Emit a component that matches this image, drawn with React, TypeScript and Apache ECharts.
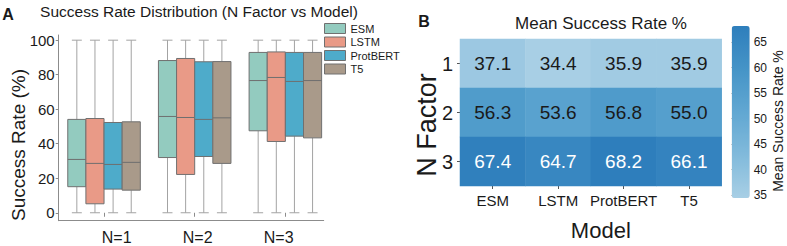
import React, { useEffect, useRef } from 'react';
import * as echarts from 'echarts';

// ---------- data ----------
const groups = ['N=1', 'N=2', 'N=3'];
const models = ['ESM', 'LSTM', 'ProtBERT', 'T5'];
const modelColors = ['#93cbbf', '#e99a87', '#4eabca', '#a99a8a'];

// [min, Q1, median, Q3, max] for N=1, N=2, N=3
const esmBox = [
  [0, 15.1, 30.9, 54.1, 100],
  [0, 32.0, 55.8, 88.2, 100],
  [0, 47.5, 76.6, 92.9, 100],
];
const lstmBox = [
  [0, 5.2, 28.6, 54.6, 100],
  [0, 22.2, 55.2, 89.4, 100],
  [0, 41.3, 78.4, 93.2, 100],
];
const protbertBox = [
  [0, 13.7, 28.0, 52.3, 100],
  [0, 32.6, 54.1, 87.5, 100],
  [0, 44.4, 76.1, 92.9, 100],
];
const t5Box = [
  [0, 13.1, 29.2, 52.7, 100],
  [0, 28.6, 55.0, 87.6, 100],
  [0, 43.4, 76.6, 92.9, 100],
];
const boxSets = [esmBox, lstmBox, protbertBox, t5Box];
const yTicks = [0, 20, 40, 60, 80, 100];

const heatRows = ['1', '2', '3'];
const heatN1 = [37.1, 34.4, 35.9, 35.9];
const heatN2 = [56.3, 53.6, 56.8, 55.0];
const heatN3 = [67.4, 64.7, 68.2, 66.1];
const heatValues = [heatN1, heatN2, heatN3];
const colorbarTicks = [35, 40, 45, 50, 55, 60, 65];
const blues = ['#a8cfe5', '#81badb', '#61a7d2', '#4594c7', '#2e7ebc'];

const FONT = "'Liberation Sans', Arial, Helvetica, sans-serif";
const TXT = '#1a1a1a';

export default function App() {
  const ref = useRef<HTMLDivElement>(null);
  useEffect(() => {
    if (!ref.current) return;
    const chart = echarts.init(ref.current, undefined, { renderer: 'svg' });

    const boxSeries = models.map((name, mi) => ({
      type: 'custom',
      name,
      xAxisIndex: 0,
      yAxisIndex: 0,
      itemStyle: { color: modelColors[mi], borderColor: '#707070', borderWidth: 1 },
      encode: { x: 0, y: [1, 2, 3, 4, 5] },
      data: boxSets[mi].map((b, ci) => [ci, ...b]),
      renderItem: (params: any, api: any) => {
        const cat = api.value(0);
        const lo = api.coord([cat, api.value(1)]);
        const q1 = api.coord([cat, api.value(2)]);
        const med = api.coord([cat, api.value(3)]);
        const q3 = api.coord([cat, api.value(4)]);
        const hi = api.coord([cat, api.value(5)]);
        const band = api.size([1, 0])[0];
        const boxW = (band * 0.8) / 4;
        const cx = lo[0] + (mi - 1.5) * boxW;
        const capW = boxW * 0.55;
        const wStyle = { stroke: '#a3a3a3', lineWidth: 1 };
        const eStyle = { stroke: '#6f6f6f', lineWidth: 1 };
        return {
          type: 'group',
          children: [
            { type: 'line', shape: { x1: cx, y1: hi[1], x2: cx, y2: q3[1] }, style: wStyle },
            { type: 'line', shape: { x1: cx, y1: q1[1], x2: cx, y2: lo[1] }, style: wStyle },
            { type: 'line', shape: { x1: cx - capW / 2, y1: hi[1], x2: cx + capW / 2, y2: hi[1] }, style: wStyle },
            { type: 'line', shape: { x1: cx - capW / 2, y1: lo[1], x2: cx + capW / 2, y2: lo[1] }, style: wStyle },
            {
              type: 'rect',
              shape: { x: cx - boxW / 2, y: q3[1], width: boxW, height: q1[1] - q3[1] },
              style: { fill: modelColors[mi], stroke: '#707070', lineWidth: 1 },
            },
            { type: 'line', shape: { x1: cx - boxW / 2, y1: med[1], x2: cx + boxW / 2, y2: med[1] }, style: eStyle },
          ],
        };
      },
    }));

    const heatData: any[] = [];
    heatValues.forEach((row, ri) =>
      row.forEach((v, ci) =>
        heatData.push({ value: [ci, ri, v], label: { color: v > 62 ? '#ffffff' : TXT } })
      )
    );

    const gtext = (text: string, x: number, y: number, size: number, opts: any = {}) => ({
      type: 'text',
      x,
      y,
      rotation: opts.rotation || 0,
      style: {
        text,
        x: 0,
        y: 0,
        align: 'center',
        verticalAlign: 'middle',
        fontSize: size,
        fontFamily: FONT,
        fontWeight: opts.bold ? 'bold' : 'normal',
        fill: TXT,
      },
    });

    const option: any = {
      animation: false,
      textStyle: { fontFamily: FONT },
      grid: [
        { left: 58.7, top: 35, width: 272, height: 185.7 },
        { left: 76.2, top: 35, width: 243, height: 185.7 },
        { left: 58.7, top: 35, width: 265, height: 185.7 },
        { left: 460, top: 39, width: 261.7, height: 147 },
        { left: 731.7, top: 26, width: 18, height: 172 },
      ],
      xAxis: [
        {
          gridIndex: 0, type: 'category', data: groups,
          axisLine: { show: false },
          axisTick: { show: true, alignWithLabel: true, length: 4, lineStyle: { color: '#8c8c8c' } },
          axisLabel: { show: false }, splitLine: { show: false },
        },
        {
          gridIndex: 1, type: 'category', data: groups,
          axisLine: { show: false }, axisTick: { show: false },
          axisLabel: { fontSize: 16, color: TXT, margin: 9, fontFamily: FONT, interval: 0 },
        },
        {
          gridIndex: 2, type: 'value', min: 0, max: 1,
          axisLine: { show: true, lineStyle: { color: '#8c8c8c' } },
          axisTick: { show: false }, axisLabel: { show: false }, splitLine: { show: false },
        },
        {
          gridIndex: 3, type: 'category', data: models,
          axisLine: { show: false },
          axisTick: { show: true, alignWithLabel: true, length: 3, interval: 0, lineStyle: { color: '#555' } },
          axisLabel: { fontSize: 15, color: TXT, margin: 7, fontFamily: FONT, interval: 0, hideOverlap: false },
          splitLine: { show: false },
        },
        { gridIndex: 4, type: 'value', show: false, min: 0, max: 1 },
      ],
      yAxis: [
        {
          gridIndex: 0, type: 'value', min: -4.6, max: 103,
          axisLine: { show: true, lineStyle: { color: '#8c8c8c' } },
          axisTick: { show: true, length: 3, customValues: yTicks, lineStyle: { color: '#8c8c8c' } },
          axisLabel: {
            customValues: yTicks, fontSize: 15, color: TXT, margin: 4, fontFamily: FONT,
            formatter: (v: number) => (yTicks.includes(v) ? String(v) : ''),
          },
          splitLine: { show: false },
        },
        { gridIndex: 1, type: 'value', show: false, min: 0, max: 1 },
        { gridIndex: 2, type: 'value', show: false, min: 0, max: 1 },
        {
          gridIndex: 3, type: 'category', data: heatRows, inverse: true,
          axisLine: { show: false },
          axisTick: { show: true, alignWithLabel: true, length: 3, interval: 0, lineStyle: { color: '#555' } },
          axisLabel: { fontSize: 20, color: TXT, margin: 7, fontFamily: FONT, interval: 0 },
          splitLine: { show: false },
        },
        {
          gridIndex: 4, type: 'value', position: 'right', min: 34.4, max: 68.2,
          axisLine: { show: false },
          axisTick: { show: true, length: 3, customValues: colorbarTicks, lineStyle: { color: '#555' } },
          axisLabel: {
            customValues: colorbarTicks, fontSize: 12, color: TXT, margin: 4, fontFamily: FONT,
            formatter: (v: number) => (colorbarTicks.includes(v) ? String(v) : ''),
          },
          splitLine: { show: false },
        },
      ],
      legend: {
        data: models,
        orient: 'vertical',
        left: 324,
        top: 23,
        padding: 0,
        itemWidth: 21,
        itemHeight: 10,
        itemGap: 2.5,
        icon: 'rect',
        itemStyle: { borderColor: '#707070', borderWidth: 1 },
        textStyle: { fontSize: 11, color: TXT, fontFamily: FONT, lineHeight: 10 },
        selectedMode: false,
      },
      visualMap: {
        type: 'continuous',
        seriesIndex: 4,
        min: 34.4,
        max: 68.2,
        left: 731.7,
        top: 26,
        itemWidth: 18,
        itemHeight: 172,
        padding: 0,
        calculable: false,
        inRange: { color: blues },
      },
      series: [
        ...boxSeries,
        {
          type: 'heatmap',
          xAxisIndex: 3,
          yAxisIndex: 3,
          data: heatData,
          itemStyle: { borderWidth: 0 },
          label: {
            show: true,
            fontSize: 19,
            fontFamily: FONT,
            formatter: (p: any) => p.value[2].toFixed(1),
          },
          emphasis: { disabled: true },
        },
      ],
      graphic: [
        gtext('A', 8, 14, 16, { bold: true }),
        gtext('Success Rate Distribution (N Factor vs Model)', 199, 11.5, 15.5),
        gtext('Success Rate (%)', 18, 145, 19, { rotation: Math.PI / 2 }),
        gtext('B', 424, 21, 16, { bold: true }),
        gtext('Mean Success Rate %', 601, 23.3, 17),
        gtext('N Factor', 426.5, 125, 27, { rotation: Math.PI / 2 }),
        gtext('Model', 600.8, 230, 22),
        gtext('Mean Success Rate %', 778, 121, 14, { rotation: Math.PI / 2 }),
      ],
    };

    chart.setOption(option);
    return () => chart.dispose();
  }, []);

  return (
    <div
      ref={ref}
      style={{ position: 'fixed', left: 0, top: 0, width: 787, height: 246, background: '#ffffff' }}
    />
  );
}
